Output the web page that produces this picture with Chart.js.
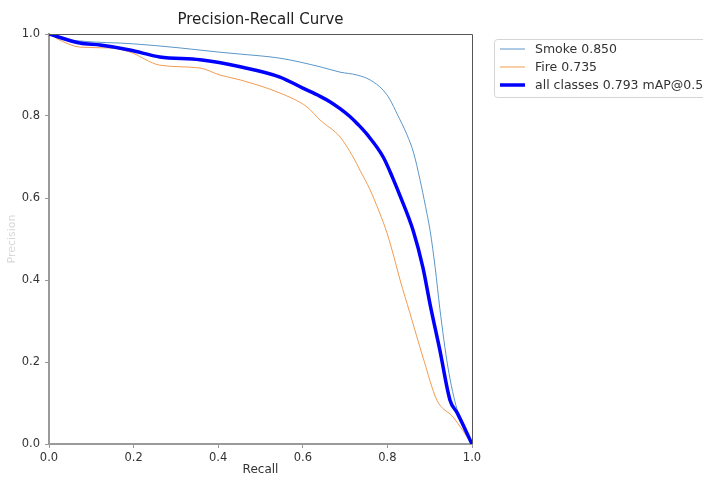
<!DOCTYPE html>
<html>
<head>
<meta charset="utf-8">
<script src="https://cdn.jsdelivr.net/npm/chart.js@4.4.1/dist/chart.umd.min.js"></script>
<style>
  html, body { margin: 0; padding: 0; background: #ffffff; }
  #pr-chart { display: block; }
</style>
</head>
<body>
<canvas id="pr-chart" width="703" height="477"></canvas>
<script>
const CHART_TITLE = 'Precision-Recall Curve';
const X_LABEL = 'Recall';
const Y_LABEL = 'Precision';
const TICK_VALUES = [0, 0.2, 0.4, 0.6, 0.8, 1.0];

const SERIES_LABELS = ['Smoke 0.850', 'Fire 0.735', 'all classes 0.793 mAP@0.5'];

const SMOKE_RECALL = [0, 0.026, 0.073, 0.2, 0.31, 0.4, 0.452, 0.546, 0.641, 0.688, 0.728, 0.759, 0.79, 0.806, 0.823, 0.846, 0.862, 0.877, 0.89, 0.901, 0.913, 0.924, 0.943, 0.965, 1.0];
const SMOKE_PRECISION = [1.0, 0.99, 0.983, 0.976, 0.966, 0.956, 0.951, 0.941, 0.92, 0.907, 0.9, 0.888, 0.863, 0.84, 0.805, 0.755, 0.71, 0.645, 0.58, 0.52, 0.43, 0.33, 0.188, 0.083, 0.0];

const FIRE_RECALL = [0, 0.026, 0.073, 0.144, 0.191, 0.262, 0.357, 0.404, 0.452, 0.546, 0.61, 0.641, 0.688, 0.719, 0.735, 0.759, 0.78, 0.799, 0.815, 0.83, 0.853, 0.884, 0.917, 0.955, 1.0];
const FIRE_PRECISION = [1.0, 0.985, 0.968, 0.966, 0.956, 0.924, 0.917, 0.9, 0.888, 0.856, 0.822, 0.79, 0.749, 0.7, 0.668, 0.62, 0.568, 0.515, 0.458, 0.4, 0.32, 0.212, 0.107, 0.066, 0.0];

const ALL_RECALL = [0, 0.073, 0.121, 0.191, 0.262, 0.357, 0.452, 0.546, 0.6, 0.641, 0.664, 0.688, 0.71, 0.73, 0.752, 0.79, 0.813, 0.83, 0.861, 0.884, 0.901, 0.924, 0.948, 0.965, 1.0];
const ALL_PRECISION = [1.0, 0.978, 0.973, 0.961, 0.944, 0.937, 0.92, 0.895, 0.868, 0.848, 0.835, 0.818, 0.8, 0.78, 0.755, 0.7, 0.648, 0.605, 0.52, 0.43, 0.34, 0.229, 0.107, 0.076, 0.0];

const FONT_FAMILY = '"DejaVu Sans", "Liberation Sans", sans-serif';

function toPoints(xs, ys) {
  return xs.map((x, i) => ({ x, y: ys[i] }));
}

// title, outer frame and the legend box are drawn by hand to sit like matplotlib's
const decorPlugin = {
  id: 'decor',
  afterDraw(chart) {
    const { ctx, chartArea } = chart;
    const { left, right, top, bottom } = chartArea;

    ctx.save();
    ctx.strokeStyle = '#555555';
    ctx.lineWidth = 1;
    ctx.beginPath();
    ctx.moveTo(left, top + 0.5);
    ctx.lineTo(right + 0.5, top + 0.5);
    ctx.lineTo(right + 0.5, bottom);
    ctx.stroke();

    ctx.fillStyle = '#222222';
    ctx.font = '15px ' + FONT_FAMILY;
    ctx.textAlign = 'center';
    ctx.textBaseline = 'middle';
    ctx.fillText(CHART_TITLE, (left + right) / 2, 20);

    const boxX = 494;
    const boxY = 39;
    ctx.fillStyle = '#ffffff';
    ctx.strokeStyle = '#d4d4d4';
    ctx.lineWidth = 1;
    ctx.beginPath();
    ctx.roundRect(boxX + 0.5, boxY + 0.5, 230, 58, 3);
    ctx.fill();
    ctx.stroke();

    ctx.font = '12.5px ' + FONT_FAMILY;
    ctx.textAlign = 'left';
    [0, 1, 2].forEach((idx, row) => {
      const ds = chart.data.datasets[idx];
      const y = 49 + row * 18;
      ctx.strokeStyle = ds.borderColor;
      ctx.lineWidth = ds.borderWidth;
      ctx.beginPath();
      ctx.moveTo(500, y);
      ctx.lineTo(525, y);
      ctx.stroke();
      ctx.fillStyle = '#333333';
      ctx.fillText(ds.label, 535, y + 1);
    });
    ctx.restore();
  },
};

function lineDataset(label, xs, ys, color, width, order) {
  return {
    label,
    data: toPoints(xs, ys),
    borderColor: color,
    borderWidth: width,
    pointRadius: 0,
    cubicInterpolationMode: 'monotone',
    order,
  };
}

function renderPrChart() {
  const canvas = document.getElementById('pr-chart');

  new Chart(canvas, {
    type: 'line',
    data: {
      datasets: [
        lineDataset(SERIES_LABELS[0], SMOKE_RECALL, SMOKE_PRECISION, '#5a96c8', 1, 2),
        lineDataset(SERIES_LABELS[1], FIRE_RECALL, FIRE_PRECISION, '#f29b50', 1, 1),
        lineDataset(SERIES_LABELS[2], ALL_RECALL, ALL_PRECISION, '#0000ff', 3.5, 0),
      ],
    },
    options: {
      animation: false,
      responsive: false,
      layout: {
        padding: { top: 34, right: 231, bottom: 0, left: 0 },
      },
      plugins: {
        legend: { display: false },
        title: { display: false },
        tooltip: { enabled: false },
      },
      scales: {
        x: {
          type: 'linear',
          min: 0,
          max: 1,
          afterFit: (scale) => { scale.height = 33; },
          afterBuildTicks: (scale) => { scale.ticks = TICK_VALUES.map((v) => ({ value: v })); },
          ticks: {
            padding: 3,
            color: '#333333',
            font: { family: FONT_FAMILY, size: 11.5 },
            callback: (v) => Number(v).toFixed(1),
          },
          grid: { drawOnChartArea: false, drawTicks: true, tickLength: 4, color: '#999999' },
          border: { display: true, color: '#9a9a9a', width: 2 },
          title: {
            display: true,
            text: X_LABEL,
            color: '#333333',
            font: { family: FONT_FAMILY, size: 12 },
            padding: { top: 0, bottom: 0 },
          },
        },
        y: {
          type: 'linear',
          min: 0,
          max: 1,
          afterFit: (scale) => { scale.width = 49; },
          afterBuildTicks: (scale) => { scale.ticks = TICK_VALUES.map((v) => ({ value: v })); },
          ticks: {
            padding: 5,
            color: '#333333',
            font: { family: FONT_FAMILY, size: 11.5 },
            callback: (v) => Number(v).toFixed(1),
          },
          grid: { drawOnChartArea: false, drawTicks: true, tickLength: 4, color: '#999999' },
          border: { display: true, color: '#9a9a9a', width: 2 },
          title: {
            display: true,
            text: Y_LABEL,
            color: '#d8d8d8',
            font: { family: FONT_FAMILY, size: 11 },
            padding: { top: 6, bottom: 0 },
          },
        },
      },
    },
    plugins: [decorPlugin],
  });
}

window.addEventListener('DOMContentLoaded', renderPrChart);
</script>
</body>
</html>
